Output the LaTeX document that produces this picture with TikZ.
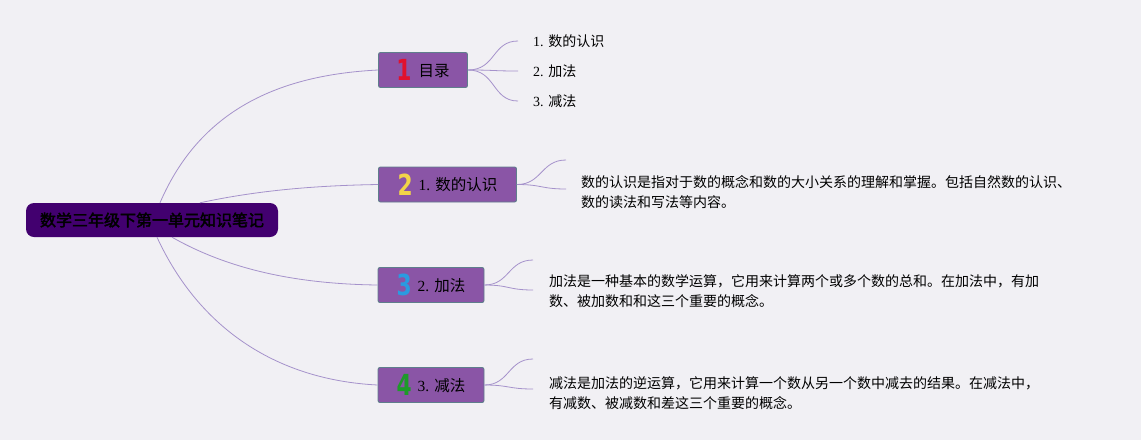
\documentclass[tikz,border=0pt]{standalone}
\usepackage{fontspec}
\setmainfont{Liberation Serif}
\newfontfamily\cjk{Noto Sans CJK SC}
\newfontfamily\cjkbold[FakeBold=2.5]{Noto Sans CJK SC}
\newfontfamily\numfont{DejaVu Sans}
\definecolor{bgcol}{HTML}{F1F0F4}
\definecolor{rootcol}{HTML}{42006F}
\definecolor{boxcol}{HTML}{8A55A6}
\definecolor{boxline}{HTML}{5F7E8C}
\definecolor{linkcol}{HTML}{A592CB}
\definecolor{numred}{HTML}{E0112E}
\definecolor{numyellow}{HTML}{F2D548}
\definecolor{numblue}{HTML}{2A9BE0}
\definecolor{numgreen}{HTML}{1E9A2A}
\newcommand{\bignum}[2]{\textcolor{#1}{\scalebox{0.75}[1]{\numfont\bfseries\fontsize{29}{29}\selectfont #2}}}
\newcommand{\boxlabel}[1]{\raisebox{4.5pt}{#1}}
\tikzset{
	rootbox/.style={fill=rootcol,rounded corners=8pt,minimum width=252pt,minimum height=34pt,inner sep=0pt,font=\cjkbold\fontsize{16}{16}\selectfont},
	topicbox/.style={fill=boxcol,draw=boxline,line width=0.9pt,rounded corners=2pt,minimum height=35pt,inner sep=0pt,font=\fontsize{15.5}{15.5}\selectfont},
	link/.style={draw=linkcol,line width=0.8pt},
	leaf/.style={anchor=west,inner sep=0pt,font=\fontsize{14}{14}\selectfont},
	note/.style={anchor=west,align=left,inner sep=0pt,font=\cjk\fontsize{14}{19.5}\selectfont},
}
\begin{document}
\begin{tikzpicture}[x=1pt,y=-1pt]
	\fill[bgcol] (0,0) rectangle (1141,440);
	\useasboundingbox (0,0) rectangle (1141,440);
	% root
	\node[rootbox] (root) at (152,220) {数学三年级下第一单元知识笔记};
	% main topics
	\node[topicbox,minimum width=89pt] (t1) at (423,70) {\bignum{numred}{1}\hspace{7pt}\boxlabel{\cjk 目录}};
	\node[topicbox,minimum width=138pt] (t2) at (447.5,184.5) {\bignum{numyellow}{2}\hspace{6pt}\boxlabel{1. {\cjk 数的认识}}};
	\node[topicbox,minimum width=106pt] (t3) at (431,285) {\bignum{numblue}{3}\hspace{6pt}\boxlabel{2. {\cjk 加法}}};
	\node[topicbox,minimum width=106pt] (t4) at (431,385) {\bignum{numgreen}{4}\hspace{6pt}\boxlabel{3. {\cjk 减法}}};
	\draw[link] ([xshift=8pt]root.north) .. controls +(40,-93) and +(-99,5) .. (t1.west);
	\draw[link] ([xshift=48pt]root.north) .. controls +(60,-13) and +(-59,1) .. (t2.west);
	\draw[link] ([xshift=20pt]root.south) .. controls +(58,33) and +(-79,-1) .. (t3.west);
	\draw[link] ([xshift=5pt]root.south) .. controls +(43,93) and +(-99,-5) .. (t4.west);
	% contents
	\node[leaf] (l1) at (533,41) {1. {\cjk 数的认识}};
	\node[leaf] (l2) at (533,71) {2. {\cjk 加法}};
	\node[leaf] (l3) at (533,101) {3. {\cjk 减法}};
	\foreach \l in {l1,l2,l3}
	\draw[link] (t1.east) .. controls +(28,0) and +(-26,0) .. ([xshift=-15pt]\l.west);
	% notes
	\node[note] (n2) at (581,192) {数的认识是指对于数的概念和数的大小关系的理解和掌握。包括自然数的认识、\\数的读法和写法等内容。};
	\node[note] (n3) at (549,291) {加法是一种基本的数学运算，它用来计算两个或多个数的总和。在加法中，有加\\数、被加数和和这三个重要的概念。};
	\node[note] (n4) at (549,393) {减法是加法的逆运算，它用来计算一个数从另一个数中减去的结果。在减法中，\\有减数、被减数和差这三个重要的概念。};
	\coordinate (e2a) at (566,160);
	\coordinate (e2b) at (566,189);
	\coordinate (e3a) at (533,260);
	\coordinate (e3b) at (533,290);
	\coordinate (e4a) at (533,359);
	\coordinate (e4b) at (533,389);
	\draw[link] (t2.east) .. controls +(25,0) and +(-25,0) .. (e2a);
	\draw[link] (t2.east) .. controls +(25,0) and +(-25,0) .. (e2b);
	\draw[link] (t3.east) .. controls +(25,0) and +(-25,0) .. (e3a);
	\draw[link] (t3.east) .. controls +(25,0) and +(-25,0) .. (e3b);
	\draw[link] (t4.east) .. controls +(25,0) and +(-25,0) .. (e4a);
	\draw[link] (t4.east) .. controls +(25,0) and +(-25,0) .. (e4b);
\end{tikzpicture}
\end{document}
